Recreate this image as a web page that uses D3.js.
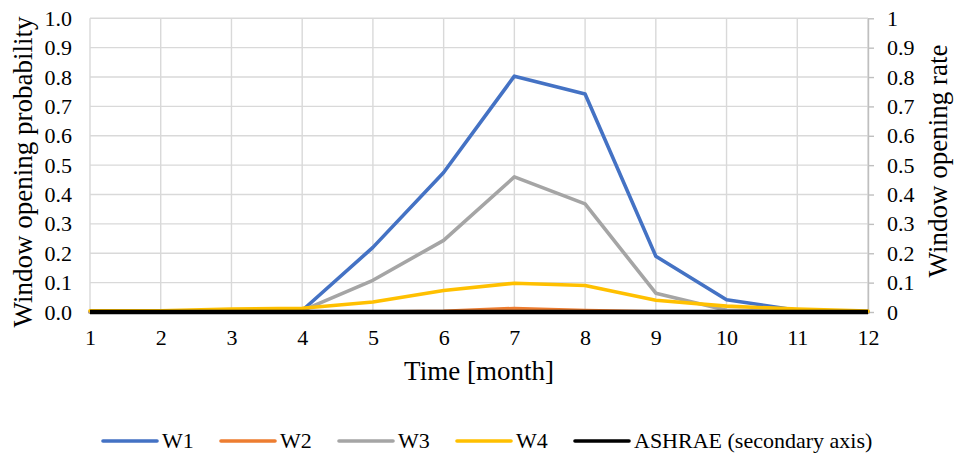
<!DOCTYPE html>
<html><head><meta charset="utf-8">
<script src="https://cdn.jsdelivr.net/npm/d3@7"></script>
<style>body{margin:0;background:#fff}svg{display:block}text{font-family:"Liberation Serif","Times New Roman","DejaVu Serif",serif;fill:#000}</style>
</head><body><svg id="c" width="954" height="456"></svg>
<script>
const months = [1,2,3,4,5,6,7,8,9,10,11,12];
const W1 = [0,0,0,0.005,0.22,0.475,0.803,0.742,0.19,0.042,0.006,0];
const W2 = [0,0,0,0,0,0.002,0.012,0.005,0.001,0,0,0];
const W3 = [0,0,0,0.005,0.108,0.244,0.46,0.368,0.064,0.006,0.001,0];
const W4 = [0.004,0.004,0.01,0.013,0.034,0.073,0.098,0.09,0.04,0.02,0.01,0.003];
const ASHRAE = [0,0,0,0,0,0,0,0,0,0,0,0];
const leftTicks = [0,0.1,0.2,0.3,0.4,0.5,0.6,0.7,0.8,0.9,1.0];
const rightTickLabels = ["0","0.1","0.2","0.3","0.4","0.5","0.6","0.7","0.8","0.9","1"];
const seriesNames = ["W1","W2","W3","W4","ASHRAE (secondary axis)"];
const colors = ["#4472c4","#ed7d31","#a5a5a5","#ffc000","#000000"];

const svg = d3.select("#c");
const x = d3.scaleLinear().domain([1,12]).range([90,868]);
const y = d3.scaleLinear().domain([0,1]).range([312,18.3]);
const y2 = d3.scaleLinear().domain([0,1]).range([312,18.3]);
const FONT = "Liberation Serif";

// gridlines
const g = svg.append("g");
g.selectAll("line.h").data(leftTicks).join("line")
  .attr("x1",x(1)).attr("x2",x(12)).attr("y1",d=>y(d)).attr("y2",d=>y(d))
  .attr("stroke","#d9d9d9").attr("stroke-width",1.4);
g.selectAll("line.v").data(months).join("line")
  .attr("x1",d=>x(d)).attr("x2",d=>x(d)).attr("y1",y(0)).attr("y2",y(1))
  .attr("stroke","#d9d9d9").attr("stroke-width",1.4);

// left axis labels
const ly = svg.append("g").attr("transform",`translate(${x(1)},0)`)
  .call(d3.axisLeft(y).tickValues(leftTicks).tickFormat(d3.format(".1f")).tickSize(0).tickPadding(18));
ly.select(".domain").remove();
ly.selectAll("text").attr("font-size",22).attr("font-family",FONT);

// right axis
const ry = svg.append("g").attr("transform",`translate(${x(12)},0)`)
  .call(d3.axisRight(y2).tickValues(leftTicks).tickFormat((d,i)=>rightTickLabels[i]).tickSize(6).tickSizeOuter(0).tickPadding(13));
ry.select(".domain").attr("stroke","#bfbfbf").attr("stroke-width",1.4);
ry.selectAll(".tick line").attr("stroke","#bfbfbf").attr("stroke-width",1.4);
ry.selectAll("text").attr("font-size",22).attr("font-family",FONT);

// x axis labels
const xa = svg.append("g").attr("transform",`translate(0,${y(0)})`)
  .call(d3.axisBottom(x).tickValues(months).tickFormat(d3.format("d")).tickSize(0).tickPadding(17));
xa.select(".domain").remove();
xa.selectAll("text").attr("font-size",22).attr("font-family",FONT);

// lines
const line = d3.line().x((d,i)=>x(months[i])).y(d=>y(d));
const line2 = d3.line().x((d,i)=>x(months[i])).y(d=>y2(d));
[W1,W2,W3,W4].forEach((s,k)=>{
  svg.append("path").datum(s).attr("d",line).attr("fill","none")
    .attr("stroke",colors[k]).attr("stroke-width",3.6).attr("stroke-linejoin","round").attr("stroke-linecap","round");
});
svg.append("path").datum(ASHRAE).attr("d",line2).attr("fill","none")
  .attr("stroke",colors[4]).attr("stroke-width",4.5);

// titles
svg.append("text").attr("transform",`translate(32,172) rotate(-90)`).attr("text-anchor","middle")
  .attr("font-size",27).text("Window opening probability");
svg.append("text").attr("transform",`translate(947,161) rotate(-90)`).attr("text-anchor","middle")
  .attr("font-size",27).text("Window opening rate");
svg.append("text").attr("x",479).attr("y",380).attr("text-anchor","middle")
  .attr("font-size",27).text("Time [month]");

// legend
const legX = [103,221,339,457,575];
const leg = svg.append("g");
seriesNames.forEach((n,i)=>{
  leg.append("line").attr("x1",legX[i]).attr("x2",legX[i]+54).attr("y1",441).attr("y2",441)
    .attr("stroke",colors[i]).attr("stroke-width",3.6).attr("stroke-linecap","round");
  leg.append("text").attr("x",legX[i]+59).attr("y",448).attr("font-size",22).text(n);
});
</script></body></html>
